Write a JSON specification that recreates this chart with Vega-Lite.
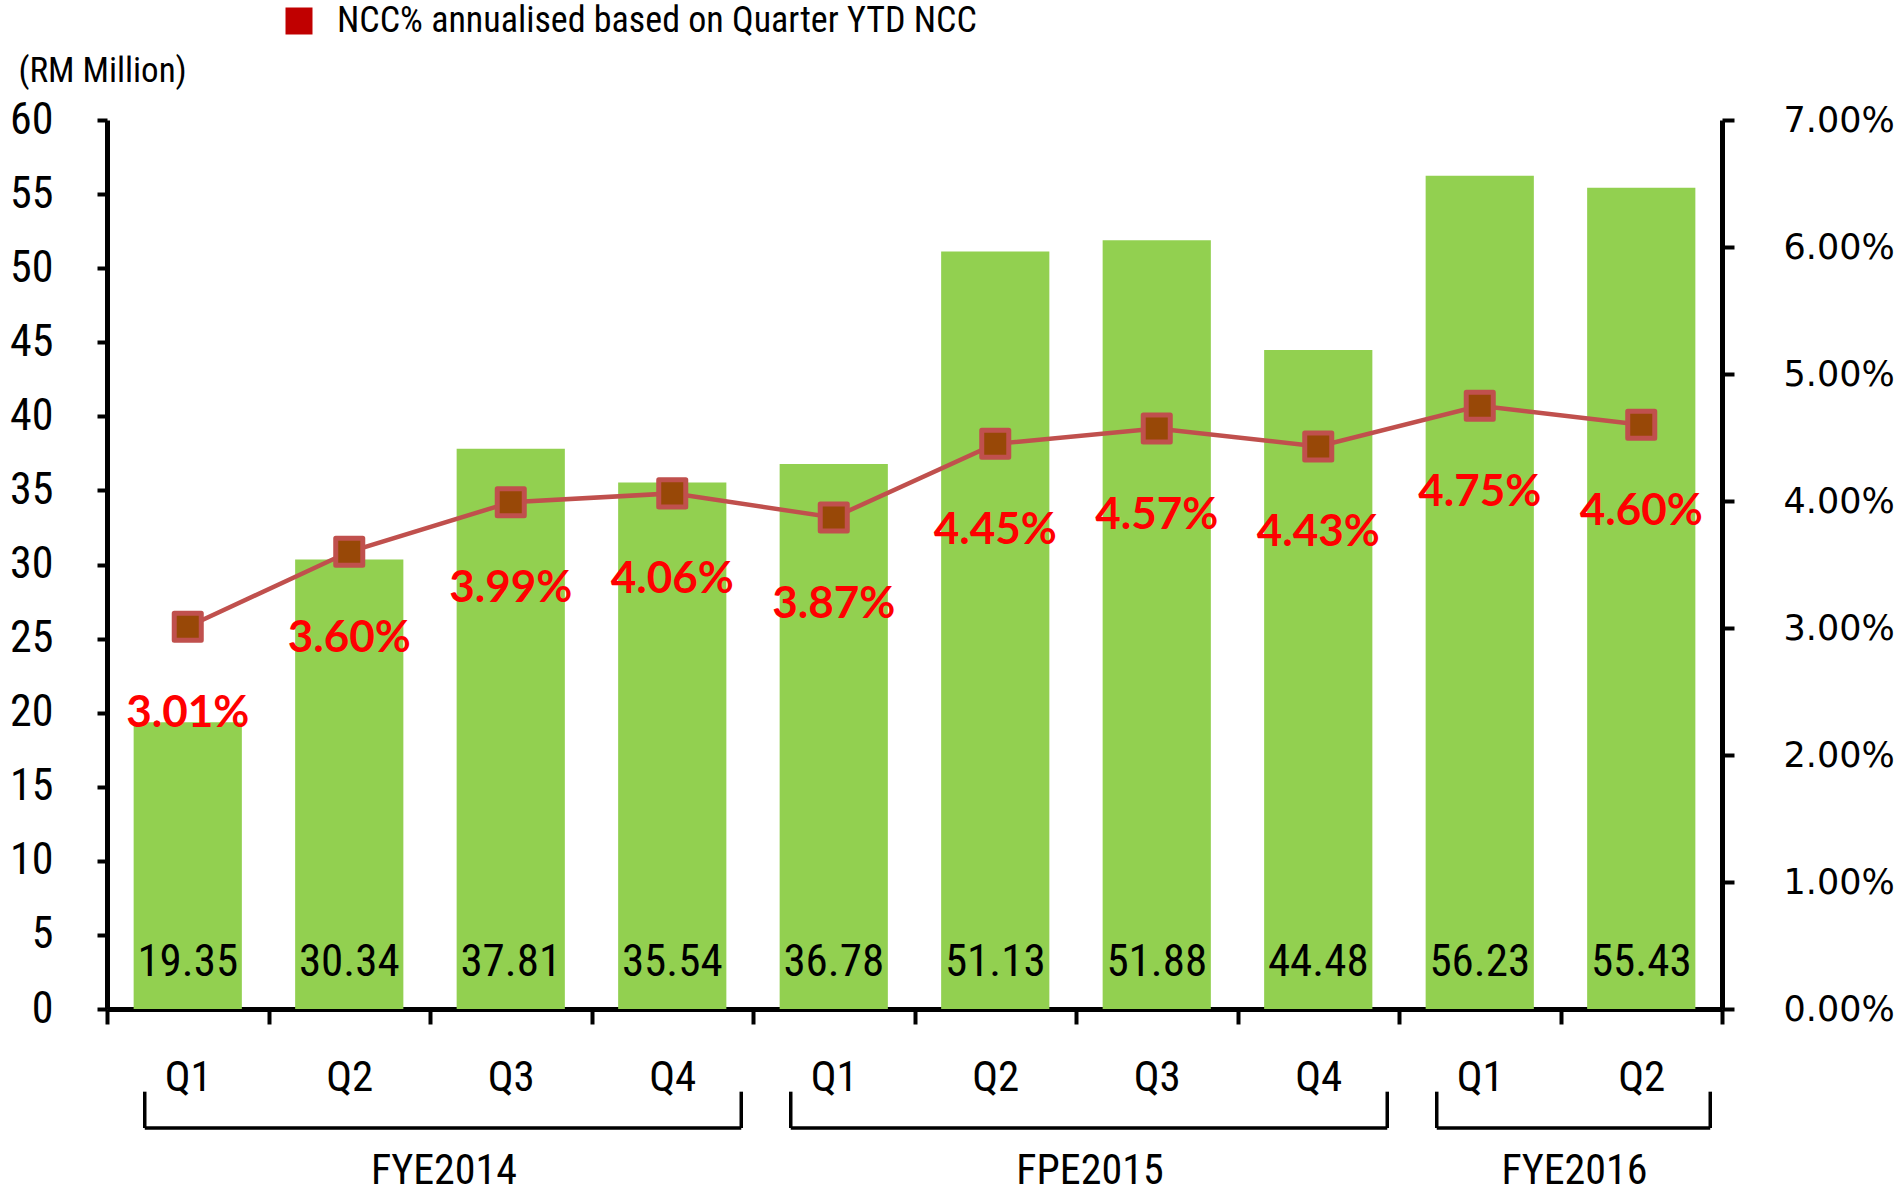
{
  "$schema": "https://vega.github.io/schema/vega-lite/v6.json",
  "width": 1615,
  "height": 889,
  "autosize": {"type": "none"},
  "padding": {"left": 107, "top": 120, "right": 180, "bottom": 192},
  "background": "white",
  "config": {
    "view": {"stroke": null},
    "font": "Liberation Sans Narrow, Arial Narrow, Roboto Condensed, DejaVu Sans Condensed, Liberation Sans",
    "text": {"font": "Liberation Sans Narrow, Arial Narrow, Roboto Condensed, DejaVu Sans Condensed, Liberation Sans"}
  },
  "datasets": {
    "q": [
      {"key": "FYE2014 Q1", "quarter": "Q1", "period": "FYE2014", "ncc": 19.35, "pct": 0.0301},
      {"key": "FYE2014 Q2", "quarter": "Q2", "period": "FYE2014", "ncc": 30.34, "pct": 0.036},
      {"key": "FYE2014 Q3", "quarter": "Q3", "period": "FYE2014", "ncc": 37.81, "pct": 0.0399},
      {"key": "FYE2014 Q4", "quarter": "Q4", "period": "FYE2014", "ncc": 35.54, "pct": 0.0406},
      {"key": "FPE2015 Q1", "quarter": "Q1", "period": "FPE2015", "ncc": 36.78, "pct": 0.0387},
      {"key": "FPE2015 Q2", "quarter": "Q2", "period": "FPE2015", "ncc": 51.13, "pct": 0.0445},
      {"key": "FPE2015 Q3", "quarter": "Q3", "period": "FPE2015", "ncc": 51.88, "pct": 0.0457},
      {"key": "FPE2015 Q4", "quarter": "Q4", "period": "FPE2015", "ncc": 44.48, "pct": 0.0443},
      {"key": "FYE2016 Q1", "quarter": "Q1", "period": "FYE2016", "ncc": 56.23, "pct": 0.0475},
      {"key": "FYE2016 Q2", "quarter": "Q2", "period": "FYE2016", "ncc": 55.43, "pct": 0.046}
    ],
    "groups": [
      {"group": "FYE2014", "start": "FYE2014 Q1", "end": "FYE2014 Q4", "labelAt": "FYE2014 Q3"},
      {"group": "FPE2015", "start": "FPE2015 Q1", "end": "FPE2015 Q4", "labelAt": "FPE2015 Q3"},
      {"group": "FYE2016", "start": "FYE2016 Q1", "end": "FYE2016 Q2", "labelAt": "FYE2016 Q2"}
    ]
  },
  "layer": [
    {
      "layer": [
        {
          "data": {"name": "q"},
          "mark": {"type": "bar", "color": "#92D050", "width": {"band": 0.67}},
          "encoding": {
            "x": {
              "field": "key",
              "type": "nominal",
              "sort": null,
              "scale": {
                "domain": ["FYE2014 Q1", "FYE2014 Q2", "FYE2014 Q3", "FYE2014 Q4", "FPE2015 Q1", "FPE2015 Q2", "FPE2015 Q3", "FPE2015 Q4", "FYE2016 Q1", "FYE2016 Q2"],
                "paddingInner": 0,
                "paddingOuter": 0
              },
              "axis": {
                "title": null,
                "labelExpr": "slice(datum.label, -2)",
                "labelAngle": 0,
                "labelFontSize": 43,
                "labelColor": "black",
                "labelPadding": 53,
                "labelBaseline": "middle",
                "tickBand": "extent",
                "tickSize": 15,
                "tickWidth": 4,
                "tickColor": "black",
                "domainColor": "black",
                "domainWidth": 5,
                "grid": false
              }
            },
            "y": {
              "field": "ncc",
              "type": "quantitative",
              "scale": {"domain": [0, 60], "nice": false},
              "axis": {
                "title": "(RM Million)",
                "titleAngle": 0,
                "titleAlign": "left",
                "titleBaseline": "middle",
                "titleX": -89,
                "titleY": -50,
                "titleFontSize": 35,
                "titleFontWeight": "normal",
                "titleColor": "black",
                "values": [0, 5, 10, 15, 20, 25, 30, 35, 40, 45, 50, 55, 60],
                "grid": false,
                "domainColor": "black",
                "domainWidth": 5,
                "tickColor": "black",
                "tickWidth": 4,
                "tickSize": 10,
                "labelFontSize": 44,
                "labelColor": "black",
                "labelPadding": 44
              }
            }
          }
        },
        {
          "data": {"name": "q"},
          "mark": {"type": "text", "fontSize": 45, "color": "black", "baseline": "middle", "dy": -47},
          "encoding": {
            "x": {"field": "key", "type": "nominal"},
            "y": {"datum": 0, "type": "quantitative"},
            "text": {"field": "ncc", "type": "quantitative", "format": ".2f"}
          }
        },
        {
          "data": {"name": "groups"},
          "mark": {"type": "rule", "color": "black", "strokeWidth": 3.5, "xOffset": -43, "x2Offset": 69},
          "encoding": {
            "x": {"field": "start", "type": "nominal"},
            "x2": {"field": "end"},
            "y": {"datum": -8.03, "type": "quantitative"}
          }
        },
        {
          "data": {"name": "groups"},
          "mark": {"type": "rule", "color": "black", "strokeWidth": 3.5, "xOffset": -43},
          "encoding": {
            "x": {"field": "start", "type": "nominal"},
            "y": {"datum": -5.58, "type": "quantitative"},
            "y2": {"datum": -8.03}
          }
        },
        {
          "data": {"name": "groups"},
          "mark": {"type": "rule", "color": "black", "strokeWidth": 3.5, "xOffset": 69},
          "encoding": {
            "x": {"field": "end", "type": "nominal"},
            "y": {"datum": -5.58, "type": "quantitative"},
            "y2": {"datum": -8.03}
          }
        },
        {
          "data": {"name": "groups"},
          "mark": {"type": "text", "fontSize": 42, "color": "black", "baseline": "middle", "dx": 14},
          "encoding": {
            "x": {"field": "labelAt", "type": "nominal", "bandPosition": 0},
            "y": {"datum": -10.93, "type": "quantitative"},
            "text": {"field": "group"}
          }
        }
      ]
    },
    {
      "data": {"name": "q"},
      "layer": [
        {
          "mark": {"type": "line", "color": "#C0504D", "strokeWidth": 4.5},
          "encoding": {
            "x": {"field": "key", "type": "nominal"},
            "y": {
              "field": "pct",
              "type": "quantitative",
              "scale": {"domain": [0, 0.07], "nice": false},
              "axis": {
                "orient": "right",
                "title": null,
                "format": ".2%",
                "values": [0, 0.01, 0.02, 0.03, 0.04, 0.05, 0.06, 0.07],
                "grid": false,
                "domainColor": "black",
                "domainWidth": 5,
                "tickColor": "black",
                "tickWidth": 4,
                "tickSize": 12,
                "labelFont": "DejaVu Sans",
                "labelFontSize": 35,
                "labelColor": "black",
                "labelPadding": 49
              }
            }
          }
        },
        {
          "mark": {"type": "point", "filled": true, "fill": "#C00000", "stroke": "#E07070", "strokeWidth": 2, "size": 0, "opacity": 1},
          "encoding": {
            "x": {"field": "key", "type": "nominal"},
            "y": {"field": "pct", "type": "quantitative"},
            "shape": {
              "datum": "NCC% annualised based on Quarter YTD NCC",
              "type": "nominal",
              "scale": {"range": ["square"]},
              "legend": {
                "title": null,
                "orient": "none",
                "legendX": 174,
                "legendY": -117,
                "labelFontSize": 36,
                "labelColor": "black",
                "labelOffset": 20,
                "labelLimit": 1000,
                "symbolSize": 729,
                "symbolType": "square",
                "symbolFillColor": "#C00000",
                "symbolStrokeColor": "#E07070",
                "symbolStrokeWidth": 2
              }
            }
          }
        },
        {
          "mark": {"type": "point", "shape": "square", "filled": true, "fill": "#984807", "stroke": "#C0504D", "strokeWidth": 5, "size": 730, "opacity": 1, "strokeJoin": "round"},
          "encoding": {
            "x": {"field": "key", "type": "nominal"},
            "y": {"field": "pct", "type": "quantitative"}
          }
        },
        {
          "mark": {"type": "text", "font": "Lato", "fontWeight": "bold", "fontSize": 44, "color": "#FF0000", "baseline": "middle", "dy": 87},
          "encoding": {
            "x": {"field": "key", "type": "nominal"},
            "y": {"field": "pct", "type": "quantitative"},
            "text": {"field": "pct", "type": "quantitative", "format": ".2%"}
          }
        }
      ]
    }
  ],
  "resolve": {"scale": {"y": "independent"}}
}
